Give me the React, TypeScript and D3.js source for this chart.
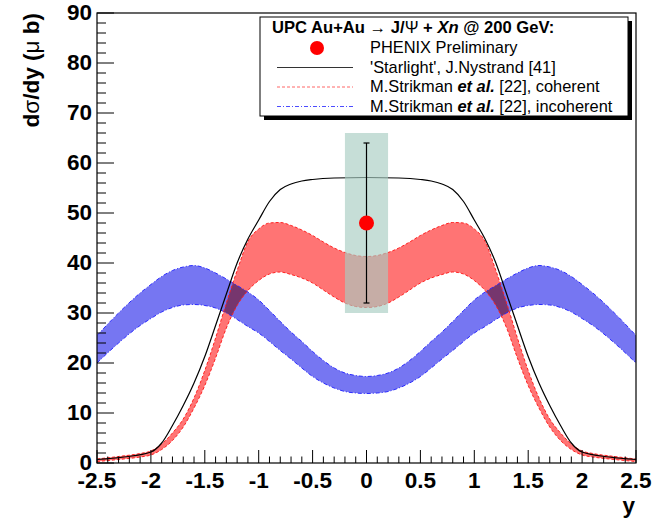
import React, { useRef, useEffect } from 'react';
import * as d3 from 'd3';

// 'Starlight' curve
const starX = [-2.5, -2.25, -2.0, -1.9, -1.8, -1.7, -1.6, -1.5, -1.4, -1.3, -1.2, -1.1, -1.0, -0.9, -0.8, -0.7, -0.6, -0.5, -0.3, 0,
  0.3, 0.5, 0.6, 0.7, 0.8, 0.9, 1.0, 1.1, 1.2, 1.3, 1.4, 1.5, 1.6, 1.7, 1.8, 1.9, 2.0, 2.25, 2.5];
const starY = [0.7, 1.2, 2.2, 4.0, 7.5, 11.5, 16.0, 21.3, 27.5, 33.8, 40.0, 44.8, 48.6, 52.3, 54.7, 55.8, 56.4, 56.7, 57.0, 57.1,
  57.0, 56.7, 56.4, 55.8, 54.7, 52.3, 48.6, 44.8, 40.0, 33.8, 27.5, 21.3, 16.0, 11.5, 7.5, 4.0, 2.2, 1.2, 0.7];

// x grid shared by the two Strikman bands
const bandX = [-2.5, -2.3, -2.1, -2.0, -1.9, -1.8, -1.7, -1.6, -1.5, -1.4, -1.3, -1.2, -1.1, -1.0, -0.9, -0.8, -0.7, -0.6, -0.5, -0.4, -0.3, -0.2, -0.1, 0,
  0.1, 0.2, 0.3, 0.4, 0.5, 0.6, 0.7, 0.8, 0.9, 1.0, 1.1, 1.2, 1.3, 1.4, 1.5, 1.6, 1.7, 1.8, 1.9, 2.0, 2.1, 2.3, 2.5];

// coherent (red)
const cohLow = [0.3, 0.7, 1.2, 1.6, 2.7, 4.5, 7.2, 11.0, 15.5, 21.0, 27.0, 31.5, 34.5, 36.5, 37.8, 38.2, 37.7, 37.0, 36.0, 34.6, 33.2, 32.0, 31.3, 31.1,
  31.3, 32.0, 33.2, 34.6, 36.0, 37.0, 37.7, 38.2, 37.8, 36.5, 34.5, 31.5, 27.0, 21.0, 15.5, 11.0, 7.2, 4.5, 2.7, 1.6, 1.2, 0.7, 0.3];
const cohHigh = [0.8, 1.3, 1.9, 2.4, 3.8, 6.0, 8.8, 13.0, 18.5, 25.0, 32.0, 38.5, 44.3, 46.8, 48.0, 48.1, 47.5, 46.6, 45.5, 44.2, 43.0, 42.1, 41.5, 41.3,
  41.5, 42.1, 43.0, 44.2, 45.5, 46.6, 47.5, 48.1, 48.0, 46.8, 44.3, 38.5, 32.0, 25.0, 18.5, 13.0, 8.8, 6.0, 3.8, 2.4, 1.9, 1.3, 0.8];

// incoherent (blue)
const incLow = [20.0, 24.0, 27.5, 28.9, 30.2, 31.1, 31.6, 31.7, 31.5, 31.0, 30.0, 28.7, 27.3, 26.0, 24.3, 22.5, 20.8, 19.0, 17.3, 16.0, 15.0, 14.3, 14.0, 13.9,
  14.0, 14.3, 15.0, 16.0, 17.3, 19.0, 20.8, 22.5, 24.3, 26.0, 27.3, 28.7, 30.0, 31.0, 31.5, 31.7, 31.6, 31.1, 30.2, 28.9, 27.5, 24.0, 20.0];
const incHigh = [25.5, 30.0, 34.0, 35.7, 37.3, 38.5, 39.2, 39.5, 39.0, 38.0, 36.8, 35.5, 34.2, 32.6, 30.5, 28.3, 26.2, 24.3, 22.3, 20.5, 19.0, 18.0, 17.5, 17.3,
  17.5, 18.0, 19.0, 20.5, 22.3, 24.3, 26.2, 28.3, 30.5, 32.6, 34.2, 35.5, 36.8, 38.0, 39.0, 39.5, 39.2, 38.5, 37.3, 35.7, 34.0, 30.0, 25.5];

// PHENIX point
const phenixX = [0];
const phenixY = [48];
const phenixErr = [16];
const sysLow = [30];
const sysHigh = [66];
const sysHalfWidth = 0.2;

const FONT = "'Liberation Sans', Arial, Helvetica, sans-serif";

const App = () => {
  const svgRef = useRef<SVGSVGElement>(null);

  useEffect(() => {
    const width = 653;
    const height = 520;
    const svg = d3.select(svgRef.current);
    svg.selectAll("*").remove();
    svg.attr("width", width).attr("height", height).style("background", "#fff");

    const x = d3.scaleLinear().domain([-2.5, 2.5]).range([97, 636]);
    const y = d3.scaleLinear().domain([0, 90]).range([463, 13]);

    const defs = svg.append("defs");
    defs.append("clipPath").attr("id", "frame")
      .append("rect").attr("x", 97).attr("y", 13).attr("width", 539).attr("height", 450);

    const plot = svg.append("g").attr("clip-path", "url(#frame)");
    const bands = plot.append("g").style("isolation", "isolate");

    const band = (lo: number[], hi: number[]) => d3.area<number>()
      .x((d, i) => x(bandX[i]))
      .y0((d, i) => y(lo[i]))
      .y1((d, i) => y(hi[i]))
      .curve(d3.curveMonotoneX)(bandX);
    const edge = (v: number[]) => d3.line<number>()
      .x((d, i) => x(bandX[i]))
      .y((d, i) => y(v[i]))
      .curve(d3.curveMonotoneX)(bandX);

    // red band (coherent)
    bands.append("path").attr("d", band(cohLow, cohHigh)).attr("fill", "#ff7474");
    // blue band (incoherent), multiplied so overlap turns purple
    bands.append("path").attr("d", band(incLow, incHigh)).attr("fill", "#7676f2")
      .style("mix-blend-mode", "multiply");

    [incLow, incHigh].forEach(v => {
      plot.append("path").attr("d", edge(v)).attr("fill", "none")
        .attr("stroke", "#2a2aff").attr("stroke-width", 1).attr("stroke-dasharray", "4,2,1,2");
    });
    [cohLow, cohHigh].forEach(v => {
      plot.append("path").attr("d", edge(v)).attr("fill", "none")
        .attr("stroke", "#ff2020").attr("stroke-width", 1).attr("stroke-dasharray", "3,2");
    });

    // Starlight
    const starLine = d3.line<number>()
      .x((d, i) => x(starX[i]))
      .y((d, i) => y(starY[i]))
      .curve(d3.curveMonotoneX);
    plot.append("path").attr("d", starLine(starX)).attr("fill", "none")
      .attr("stroke", "#000").attr("stroke-width", 1.2);

    // systematic box
    phenixX.forEach((px, i) => {
      plot.append("rect")
        .attr("x", x(px - sysHalfWidth)).attr("y", y(sysHigh[i]))
        .attr("width", x(px + sysHalfWidth) - x(px - sysHalfWidth))
        .attr("height", y(sysLow[i]) - y(sysHigh[i]))
        .attr("fill", "#a8cdc2").attr("fill-opacity", 0.65);
    });

    // error bar + point
    phenixX.forEach((px, i) => {
      const cx = x(px);
      const top = y(phenixY[i] + phenixErr[i]);
      const bot = y(phenixY[i] - phenixErr[i]);
      plot.append("line").attr("x1", cx).attr("x2", cx).attr("y1", top).attr("y2", bot)
        .attr("stroke", "#000").attr("stroke-width", 1.2);
      [top, bot].forEach(yy => {
        plot.append("line").attr("x1", cx - 3).attr("x2", cx + 3).attr("y1", yy).attr("y2", yy)
          .attr("stroke", "#000").attr("stroke-width", 1.2);
      });
      plot.append("circle").attr("cx", cx).attr("cy", y(phenixY[i])).attr("r", 7.5).attr("fill", "#ff0000");
    });

    // frame
    svg.append("rect").attr("x", 97).attr("y", 13).attr("width", 539).attr("height", 450)
      .attr("fill", "none").attr("stroke", "#000").attr("stroke-width", 1.2);

    // ticks
    const axes = svg.append("g").attr("stroke", "#000").attr("stroke-width", 1);
    x.ticks(50).forEach(t => {
      const major = Math.abs(t * 2 - Math.round(t * 2)) < 1e-6;
      axes.append("line").attr("x1", x(t)).attr("x2", x(t))
        .attr("y1", 463).attr("y2", 463 - (major ? 13 : 6.5));
    });
    y.ticks(45).forEach(t => {
      const major = t % 10 === 0;
      axes.append("line").attr("x1", 97).attr("x2", 97 + (major ? 17 : 9))
        .attr("y1", y(t)).attr("y2", y(t));
    });

    // tick labels
    x.ticks(10).forEach(t => {
      svg.append("text").attr("x", x(t)).attr("y", 488)
        .attr("text-anchor", "middle").attr("font-family", FONT).attr("font-weight", "bold")
        .attr("font-size", 22.5).text(String(+t.toFixed(1)));
    });
    y.ticks(9).forEach(t => {
      svg.append("text").attr("x", 92).attr("y", y(t) + 7)
        .attr("text-anchor", "end").attr("font-family", FONT).attr("font-weight", "bold")
        .attr("font-size", 22.5).text(String(t));
    });

    // axis titles
    svg.append("text").attr("x", 635).attr("y", 513)
      .attr("text-anchor", "end").attr("font-family", FONT).attr("font-weight", "bold")
      .attr("font-size", 22.5).text("y");
    const yt = svg.append("text").attr("transform", "rotate(-90)").attr("x", -13).attr("y", 39)
      .attr("text-anchor", "end").attr("font-family", FONT).attr("font-weight", "bold").attr("font-size", 22.5);
    yt.append("tspan").text("d");
    yt.append("tspan").attr("font-weight", "normal").text("σ");
    yt.append("tspan").text("/dy (");
    yt.append("tspan").attr("font-weight", "normal").text("μ");
    yt.append("tspan").text(" b)");

    // legend
    const lg = svg.append("g");
    lg.append("rect").attr("x", 264).attr("y", 21).attr("width", 368).attr("height", 99).attr("fill", "#000");
    lg.append("rect").attr("x", 260).attr("y", 17).attr("width", 368).attr("height", 99)
      .attr("fill", "#fff").attr("stroke", "#000").attr("stroke-width", 1);

    const title = lg.append("text").attr("x", 272).attr("y", 33)
      .attr("font-family", FONT).attr("font-size", 16.6).attr("font-weight", "bold");
    title.append("tspan").text("UPC Au+Au ");
    title.append("tspan").attr("font-weight", "normal").text("→");
    title.append("tspan").text(" J/");
    title.append("tspan").attr("font-weight", "normal").text("Ψ");
    title.append("tspan").text(" + ");
    title.append("tspan").attr("font-style", "italic").text("Xn");
    title.append("tspan").text(" @ 200 GeV:");

    const rows = [53, 72.6, 92.2, 111.8];
    const rowText = (i: number) => lg.append("text").attr("x", 370).attr("y", rows[i])
      .attr("font-family", FONT).attr("font-size", 16.4);
    rowText(0).text("PHENIX Preliminary");
    rowText(1).text("'Starlight', J.Nystrand [41]");
    const r2 = rowText(2);
    r2.append("tspan").text("M.Strikman ");
    r2.append("tspan").attr("font-weight", "bold").attr("font-style", "italic").text("et al.");
    r2.append("tspan").text(" [22], coherent");
    const r3 = rowText(3);
    r3.append("tspan").text("M.Strikman ");
    r3.append("tspan").attr("font-weight", "bold").attr("font-style", "italic").text("et al.");
    r3.append("tspan").text(" [22], incoherent");

    lg.append("circle").attr("cx", 317).attr("cy", 48).attr("r", 7).attr("fill", "#ff0000");
    lg.append("line").attr("x1", 277).attr("x2", 353).attr("y1", 67.5).attr("y2", 67.5)
      .attr("stroke", "#333").attr("stroke-width", 1.2);
    lg.append("line").attr("x1", 277).attr("x2", 353).attr("y1", 87).attr("y2", 87)
      .attr("stroke", "#ff0000").attr("stroke-width", 1).attr("stroke-dasharray", "3,2").attr("stroke-opacity", 0.6);
    lg.append("line").attr("x1", 277).attr("x2", 353).attr("y1", 106.5).attr("y2", 106.5)
      .attr("stroke", "#0000ff").attr("stroke-width", 1).attr("stroke-dasharray", "4,2,1,2").attr("stroke-opacity", 0.7);
  }, []);

  return (
    <svg ref={svgRef} style={{ position: "absolute", left: 0, top: 0 }}></svg>
  );
};

export default App;
